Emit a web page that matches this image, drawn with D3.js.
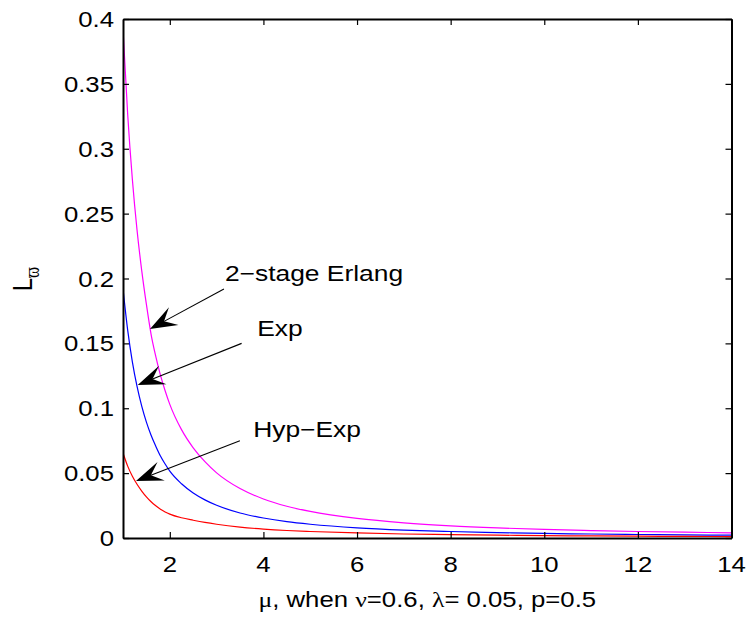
<!DOCTYPE html>
<html><head><meta charset="utf-8">
<script src="https://cdn.jsdelivr.net/npm/d3@7"></script>
<style>body{margin:0;background:#fff}svg{display:block}</style>
</head><body><svg id="c" width="748" height="621"></svg>
<script>
// ---- data ----
const mu      = [1, 1.1, 1.2, 1.3, 1.4, 1.5, 1.6, 1.7, 1.8, 1.9, 2, 2.25, 2.5, 2.75, 3, 3.5, 4, 4.5, 5, 6, 7, 8, 9, 10, 11, 12, 13, 14];
const erlang  = [0.392, 0.3265, 0.2764, 0.2373, 0.2061, 0.1800, 0.1570, 0.1400, 0.1255, 0.1135, 0.1030, 0.0835, 0.0695, 0.0588, 0.0502, 0.0381, 0.0301, 0.0245, 0.0205, 0.0151, 0.0117, 0.0094, 0.0078, 0.0066, 0.0057, 0.0050, 0.0045, 0.0040];
const expo    = [0.192, 0.1602, 0.1358, 0.1168, 0.1016, 0.0893, 0.0792, 0.0708, 0.0632, 0.0570, 0.0515, 0.0418, 0.0347, 0.0294, 0.0252, 0.0193, 0.0154, 0.0126, 0.0106, 0.0078, 0.0061, 0.0050, 0.0042, 0.0035, 0.0031, 0.0027, 0.0024, 0.0022];
const hypExp  = [0.0655, 0.0554, 0.0476, 0.0414, 0.0362, 0.0317, 0.0279, 0.0248, 0.0222, 0.0201, 0.0184, 0.0156, 0.0137, 0.0120, 0.0106, 0.0084, 0.0069, 0.0058, 0.0050, 0.0039, 0.0031, 0.0026, 0.0022, 0.0018, 0.0016, 0.0014, 0.0012, 0.0011];
const seriesNames  = ["2\u2212stage Erlang", "Exp", "Hyp\u2212Exp"];
const seriesColors = ["#ff00ff", "#0000ff", "#ff0000"];
const xTicks = [2, 4, 6, 8, 10, 12, 14];
const yTicks = [0, 0.05, 0.1, 0.15, 0.2, 0.25, 0.3, 0.35, 0.4];
const yTickLabels = ["0", "0.05", "0.1", "0.15", "0.2", "0.25", "0.3", "0.35", "0.4"];
// annotation positions in data units: label (x,y), arrow tail (x,y), arrow tip (x,y)
const labelX = [3.177, 3.867, 3.781];
const labelY = [0.1977, 0.1557, 0.0778];
const tailX  = [3.156, 3.534, 3.497];
const tailY  = [0.1919, 0.150, 0.075];
const tipX   = [1.576, 1.314, 1.277];
const tipY   = [0.1611, 0.1179, 0.0439];

// ---- layout ----
const L = 123, R = 731.5, T = 19, B = 538;
const FS = 22, SX = 1.17;
const svg = d3.select("#c");
const x = d3.scaleLinear().domain([1, 14]).range([L, R]);
const y = d3.scaleLinear().domain([0, 0.4]).range([B, T]);

function stext(g, px, py, str, anchor, sx) {
  return g.append("text")
    .attr("transform", `translate(${px},${py}) scale(${sx || SX},1)`)
    .attr("text-anchor", anchor)
    .attr("font-family", "Liberation Sans, Arial, Helvetica, sans-serif")
    .attr("font-size", FS)
    .attr("fill", "#000")
    .text(str);
}

// curves
const series = [erlang, expo, hypExp];
const line = d3.line().x((d, i) => x(mu[i])).y(d => y(d)).curve(d3.curveMonotoneX);
svg.append("clipPath").attr("id", "pc").append("rect")
  .attr("x", L).attr("y", T).attr("width", R - L).attr("height", B - T);
series.forEach((s, k) => {
  svg.append("path").datum(s).attr("d", line)
    .attr("fill", "none").attr("stroke", seriesColors[k]).attr("stroke-width", 1.2)
    .attr("clip-path", "url(#pc)");
});

// axes (box with inward ticks on all sides)
const tl = 6;
const axB = svg.append("g").attr("transform", `translate(0,${B})`)
  .call(d3.axisBottom(x).tickValues(xTicks).tickSizeInner(-tl).tickSizeOuter(0).tickFormat(""));
const axT = svg.append("g").attr("transform", `translate(0,${T})`)
  .call(d3.axisTop(x).tickValues(xTicks).tickSizeInner(-tl).tickSizeOuter(0).tickFormat(""));
const axL = svg.append("g").attr("transform", `translate(${L},0)`)
  .call(d3.axisLeft(y).tickValues(yTicks).tickSizeInner(-tl).tickSizeOuter(0).tickFormat(""));
const axR = svg.append("g").attr("transform", `translate(${R},0)`)
  .call(d3.axisRight(y).tickValues(yTicks).tickSizeInner(-tl).tickSizeOuter(0).tickFormat(""));
[axB, axT, axL, axR].forEach(a => {
  a.select(".domain").attr("stroke", "#000").attr("stroke-width", 2);
  a.selectAll(".tick line").attr("stroke", "#000").attr("stroke-width", 1.2);
});

// tick labels
const gl = svg.append("g");
xTicks.forEach(t => stext(gl, x(t), 572, String(t), "middle"));
yTicks.forEach((t, i) => stext(gl, 114, y(t) + 8, yTickLabels[i], "end"));

// x label
const xl = svg.append("text")
  .attr("transform", `translate(${(L + R) / 2},607) scale(${SX},1)`)
  .attr("text-anchor", "middle")
  .attr("font-family", "Liberation Sans, Arial, sans-serif")
  .attr("font-size", FS);
const serif = "Liberation Serif, Times New Roman, serif";
xl.append("tspan").attr("font-family", serif).text("\u03bc");
xl.append("tspan").text(", when ");
xl.append("tspan").attr("font-family", serif).text("\u03bd");
xl.append("tspan").text("=0.6, ");
xl.append("tspan").attr("font-family", serif).text("\u03bb");
xl.append("tspan").text("= 0.05, p=0.5");

// y label
const yl = svg.append("text")
  .attr("transform", `translate(32,279) rotate(-90) scale(1,${SX})`)
  .attr("text-anchor", "middle")
  .attr("font-family", "Liberation Sans, Arial, sans-serif")
  .attr("font-size", 24);
yl.append("tspan").text("L");
yl.append("tspan").attr("font-family", "Liberation Serif, DejaVu Serif, serif").attr("font-size", 17).attr("dy", 6).text("\u03d6");

// annotations
const ga = svg.append("g");
seriesNames.forEach((name, k) => {
  stext(ga, x(labelX[k]), y(labelY[k]), name, "start", 1.2);
  const tx = x(tipX[k]), ty = y(tipY[k]);
  const sx = x(tailX[k]), sy = y(tailY[k]);
  const dx = sx - tx, dy = sy - ty, len = Math.hypot(dx, dy);
  const ux = dx / len, uy = dy / len, nx = -uy, ny = ux;
  const HL = 27, HW = 10, NL = 16;
  ga.append("line").attr("x1", sx).attr("y1", sy).attr("x2", tx + ux * NL).attr("y2", ty + uy * NL)
    .attr("stroke", "#000").attr("stroke-width", 1.1);
  const pts = [
    [tx, ty],
    [tx + ux * HL + nx * HW, ty + uy * HL + ny * HW],
    [tx + ux * NL, ty + uy * NL],
    [tx + ux * HL - nx * HW, ty + uy * HL - ny * HW]
  ];
  ga.append("path").attr("d", "M" + pts.map(p => p.join(",")).join("L") + "Z").attr("fill", "#000");
});
</script>
</body></html>
